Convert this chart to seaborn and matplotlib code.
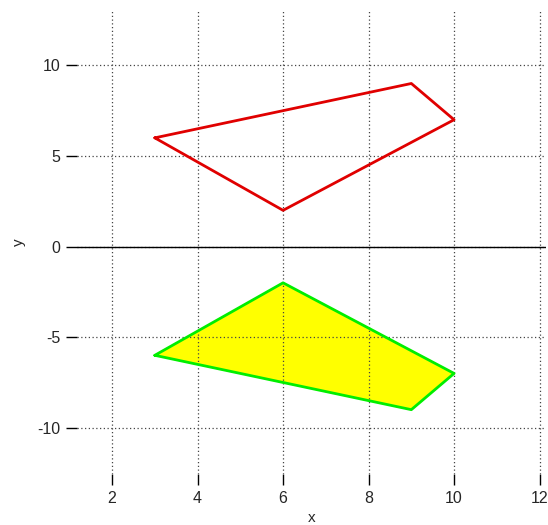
import matplotlib
matplotlib.use("Agg")
import matplotlib.pyplot as plt
import numpy as np
import pandas as pd
import seaborn as sns

# polygon vertices
red_x = [3, 9, 10, 6]
red_y = [6, 9, 7, 2]
yellow_x = [3, 6, 10, 9]
yellow_y = [-6, -2, -7, -9]

sns.set_style("white")
plt.rcParams['font.family'] = ['Liberation Sans', 'DejaVu Sans']
plt.rcParams['axes.unicode_minus'] = False

fig = plt.figure(figsize=(5.48, 5.25), dpi=100)
ax = fig.add_axes([77 / 548, 1 - 474 / 525, (546 - 77) / 548, (474 - 11) / 525])

red = pd.DataFrame({"x": red_x + red_x[:1], "y": red_y + red_y[:1]})
yel = pd.DataFrame({"x": yellow_x + yellow_x[:1], "y": yellow_y + yellow_y[:1]})

ax.fill(yel["x"], yel["y"], color="#ffff00", zorder=1)
sns.lineplot(data=red, x="x", y="y", sort=False, estimator=None, color="#e00000",
             linewidth=2, ax=ax, zorder=3)
sns.lineplot(data=yel, x="x", y="y", sort=False, estimator=None, color="#00ee00",
             linewidth=2, ax=ax, zorder=3)
ax.axhline(0, color="black", linewidth=1, zorder=2.8)

ax.set_xlim(1.18, 12.15)
ax.set_ylim(-12.55, 13.0)
ax.set_xticks([2, 4, 6, 8, 10, 12])
ax.set_yticks([-10, -5, 0, 5, 10])
ax.set_axisbelow(False)
ax.grid(True, color="#444444", linestyle=(0, (1, 2)), linewidth=0.9, zorder=2.5)
for s in ax.spines.values():
    s.set_visible(False)
ax.tick_params(axis="both", direction="out", length=8, width=1, color="black",
               labelsize=11.5, pad=4)
ax.xaxis.set_ticks_position("bottom")
ax.yaxis.set_ticks_position("left")
ax.set_xlabel("x", fontsize=11, labelpad=4)
ax.set_ylabel("y", fontsize=11, labelpad=8)

fig.savefig("out.png", dpi=100)
